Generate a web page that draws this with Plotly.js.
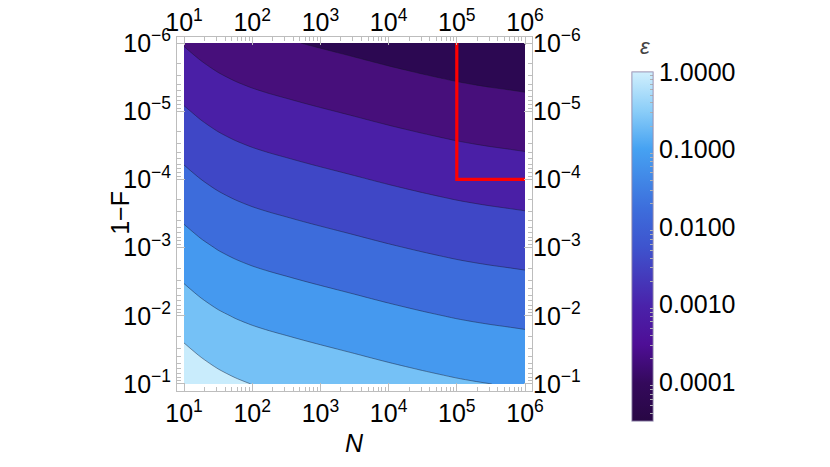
<!DOCTYPE html>
<html>
<head>
<meta charset="utf-8">
<script src="https://cdn.plot.ly/plotly-3.0.1.min.js"></script>
<style>
html,body{margin:0;padding:0;background:#fff;}
#chart{width:830px;height:467px;}
</style>
</head>
<body>
<div id="chart"></div>
<script>
// log10(N) grid (columns) and log10(1-F) grid (rows)
const logN = [1, 1.25, 1.5, 1.75, 2, 2.25, 2.5, 2.75, 3, 3.25, 3.5, 3.75, 4, 4.25, 4.5, 4.75, 5, 5.25, 5.5, 5.75, 6];
const logInfidelity = [-6, -5, -4, -3, -2, -1];
// log10(epsilon), one row per log10(1-F)
const logEps = [
  [-3.029, -3.150, -3.248, -3.322, -3.380, -3.426, -3.466, -3.506, -3.544, -3.581, -3.618, -3.656, -3.693, -3.728, -3.762, -3.794, -3.825, -3.851, -3.874, -3.894, -3.915],
  [-2.454, -2.575, -2.673, -2.747, -2.805, -2.851, -2.891, -2.931, -2.969, -3.006, -3.043, -3.081, -3.118, -3.153, -3.187, -3.219, -3.250, -3.276, -3.299, -3.319, -3.340],
  [-1.879, -2.000, -2.098, -2.172, -2.230, -2.276, -2.316, -2.356, -2.394, -2.431, -2.468, -2.506, -2.543, -2.578, -2.612, -2.644, -2.675, -2.701, -2.724, -2.744, -2.765],
  [-1.304, -1.425, -1.523, -1.597, -1.655, -1.701, -1.741, -1.781, -1.819, -1.856, -1.893, -1.931, -1.968, -2.003, -2.037, -2.069, -2.100, -2.126, -2.149, -2.169, -2.190],
  [-0.729, -0.850, -0.948, -1.022, -1.080, -1.126, -1.166, -1.206, -1.244, -1.281, -1.318, -1.356, -1.393, -1.428, -1.462, -1.494, -1.525, -1.551, -1.574, -1.594, -1.615],
  [-0.154, -0.275, -0.373, -0.447, -0.505, -0.551, -0.591, -0.631, -0.669, -0.706, -0.743, -0.781, -0.818, -0.853, -0.887, -0.919, -0.950, -0.976, -0.999, -1.019, -1.040]
];
// red boundary (log10 N, log10(1-F))
const redN = [5, 5, 6];
const redInf = [-6, -4, -4];

// tick labels
const xTickVals = [1, 2, 3, 4, 5, 6];
const xTickText = ['10<sup>1</sup>', '10<sup>2</sup>', '10<sup>3</sup>', '10<sup>4</sup>', '10<sup>5</sup>', '10<sup>6</sup>'];
const yTickVals = [-6, -5, -4, -3, -2, -1];
const yTickText = ['10<sup>−6</sup>', '10<sup>−5</sup>', '10<sup>−4</sup>', '10<sup>−3</sup>', '10<sup>−2</sup>', '10<sup>−1</sup>'];
const cbTickVals = [-4, -3, -2, -1, 0];
const cbTickText = ['0.0001', '0.0010', '0.0100', '0.1000', '1.0000'];

// contour levels (log10 epsilon)
const levelStart = -3.5, levelEnd = -0.5, levelSize = 0.5;
const bandColors = ['rgb(44,8,82)', 'rgb(71,15,123)', 'rgb(74,31,166)', 'rgb(63,71,198)',
                    'rgb(61,108,219)', 'rgb(69,153,239)', 'rgb(117,193,246)', 'rgb(201,236,252)'];
const barColors = [
  [0.00, 'rgb(40,7,68)'],
  [0.11, 'rgb(52,9,92)'],
  [0.22, 'rgb(78,14,150)'],
  [0.33, 'rgb(74,34,170)'],
  [0.50, 'rgb(62,84,206)'],
  [0.61, 'rgb(61,110,220)'],
  [0.78, 'rgb(70,162,242)'],
  [0.89, 'rgb(140,206,248)'],
  [1.00, 'rgb(208,239,253)']
];

function minorTicks(from, to, lo, hi) {
  const out = [];
  for (let n = from; n <= to; n++) {
    for (let k = 2; k <= 9; k++) {
      const v = n + Math.log10(k);
      if (v > lo && v < hi) out.push(v);
    }
  }
  return out;
}

const xRange = [0.8974, 6.1026];
const yRange = [-0.897, -6.088];
const font = 'Liberation Sans, Arial, sans-serif';
const frameColor = '#bdbdbd';

const contourScale = bandColors.map((c, i) => [i / (bandColors.length - 1), c]);

const barBase = {
  x: 1.2817, xanchor: 'left', xpad: 0,
  y: 0.901, yanchor: 'top', ypad: 0,
  thickness: 21, thicknessmode: 'pixels',
  len: 349, lenmode: 'pixels',
  outlinewidth: 1, outlinecolor: 'rgba(150,140,175,0.7)',
  ticks: 'inside', tickcolor: '#b0b0b0', tickwidth: 1, tickmode: 'array'
};

const traces = [
  {
    type: 'heatmap', x: logN, y: logInfidelity, z: logEps,
    colorscale: barColors, zmin: -4.5, zmax: 0, opacity: 0,
    hoverinfo: 'skip', showscale: true,
    colorbar: Object.assign({}, barBase, {
      ticklen: 5, tickvals: cbTickVals, ticktext: cbTickText,
      tickfont: {family: font, size: 25, color: '#000'}
    })
  },
  {
    type: 'heatmap', x: logN, y: logInfidelity, z: logEps,
    colorscale: barColors, zmin: -4.5, zmax: 0, opacity: 0,
    hoverinfo: 'skip', showscale: true,
    colorbar: Object.assign({}, barBase, {
      ticklen: 3, tickvals: minorTicks(-5, -1, -4.5, 0), showticklabels: false
    })
  },
  {
    type: 'contour', x: logN, y: logInfidelity, z: logEps,
    autocontour: false,
    contours: {start: levelStart, end: levelEnd, size: levelSize, coloring: 'fill'},
    colorscale: contourScale, showscale: false,
    line: {color: 'rgba(20,20,40,0.55)', width: 0.8, smoothing: 0.7},
    hoverinfo: 'skip'
  },
  {
    type: 'scatter', mode: 'lines', x: redN, y: redInf,
    line: {color: '#ff0000', width: 3.2},
    hoverinfo: 'skip', showlegend: false
  },
  {
    type: 'scatter', mode: 'lines', x: redN, y: redInf, xaxis: 'x2', yaxis: 'y2',
    line: {color: 'rgba(0,0,0,0)', width: 0},
    hoverinfo: 'skip', showlegend: false
  }
];

const axisCommon = {
  showgrid: false, zeroline: false,
  tickfont: {family: font, size: 25, color: '#000'}
};

const layout = {
  width: 830, height: 467,
  margin: {l: 177, r: 298, t: 37, b: 76, pad: 0},
  paper_bgcolor: '#fff', plot_bgcolor: '#fff',
  showlegend: false,
  xaxis: Object.assign({}, axisCommon, {
    range: xRange, showline: true, linecolor: frameColor, linewidth: 1, mirror: 'allticks',
    ticks: 'inside', ticklen: 8, tickcolor: frameColor, tickwidth: 1,
    tickmode: 'array', tickvals: xTickVals, ticktext: xTickText,
    minor: {ticks: 'inside', ticklen: 4, tickcolor: frameColor, tickvals: minorTicks(1, 5, 1, 6)}
  }),
  yaxis: Object.assign({}, axisCommon, {
    range: yRange, showline: true, linecolor: frameColor, linewidth: 1, mirror: 'allticks',
    ticks: 'inside', ticklen: 8, tickcolor: frameColor, tickwidth: 1,
    tickmode: 'array', tickvals: yTickVals, ticktext: yTickText,
    minor: {ticks: 'inside', ticklen: 4, tickcolor: frameColor, tickvals: minorTicks(-6, -2, -6, -1)}
  }),
  xaxis2: Object.assign({}, axisCommon, {
    range: xRange, overlaying: 'x', side: 'top', anchor: 'y2',
    showline: false, ticks: '', tickmode: 'array', tickvals: xTickVals, ticktext: xTickText
  }),
  yaxis2: Object.assign({}, axisCommon, {
    range: yRange, overlaying: 'y', side: 'right', anchor: 'x2',
    showline: false, ticks: '', tickmode: 'array', tickvals: yTickVals, ticktext: yTickText
  }),
  annotations: [
    {text: '<i>N</i>', xref: 'paper', yref: 'paper', x: 0.501, y: -0.147,
     showarrow: false, font: {family: font, size: 25, color: '#000'}, xanchor: 'center', yanchor: 'middle'},
    {text: '1−F', xref: 'paper', yref: 'paper', x: -0.161, y: 0.503, textangle: -90,
     showarrow: false, font: {family: font, size: 25, color: '#000'}, xanchor: 'center', yanchor: 'middle'},
    {text: '<i>ε</i>', xref: 'paper', yref: 'paper', x: 1.318, y: 0.972,
     showarrow: false, font: {family: font, size: 22, color: '#444'}, xanchor: 'center', yanchor: 'middle'}
  ]
};

Plotly.newPlot('chart', traces, layout, {displayModeBar: false, staticPlot: true});
</script>
</body>
</html>
